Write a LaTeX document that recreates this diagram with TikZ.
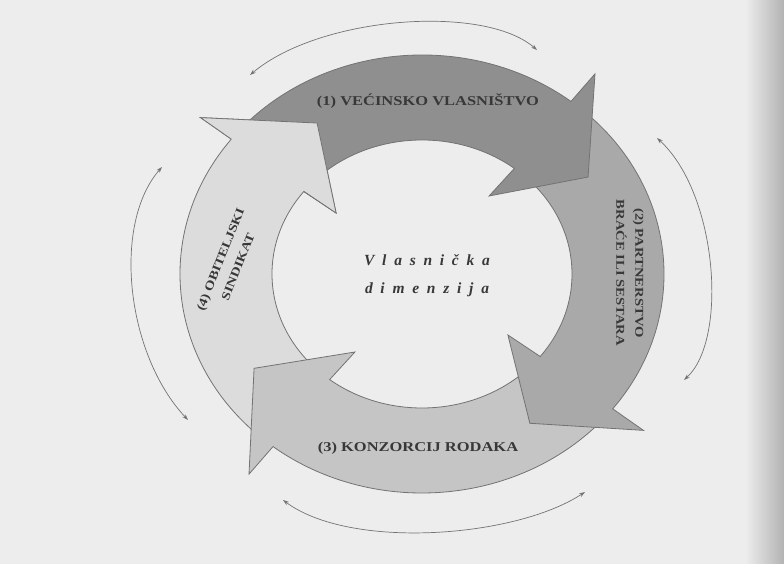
\documentclass[tikz,border=0pt]{standalone}
\usepackage{fontspec}
\setmainfont{Liberation Serif}
\newfontfamily\labelfont[FakeStretch=1.22]{Liberation Serif}
\newfontfamily\titlefont[LetterSpace=50]{Liberation Serif Bold Italic}
\usetikzlibrary{arrows.meta}

\definecolor{paper}{HTML}{EDEDED}
\definecolor{shadeone}{HTML}{8F8F8F}
\definecolor{shadetwo}{HTML}{A9A9A9}
\definecolor{shadethree}{HTML}{C5C5C5}
\definecolor{shadefour}{HTML}{DCDCDC}
\definecolor{rim}{HTML}{737373}
\definecolor{ink}{HTML}{383838}

% one block arc of the ring: style, tail angle, barb angle, tip angle
\newcommand{\ringarrow}[4]{%
  \filldraw[#1] (#2:242pt and 219pt)
    arc[start angle=#2, end angle=#3, x radius=242pt, y radius=219pt]
    -- (#3:281pt and 254pt) -- (#4:198pt and 178pt) -- (#3:109pt and 99pt)
    -- (#3:150pt and 134pt)
    arc[start angle=#3, end angle=#2, x radius=150pt, y radius=134pt] -- cycle;}

\begin{document}
\begin{tikzpicture}[x=1pt, y=1pt,
                    every node/.style={inner sep=0pt},
                    segone/.style={fill=shadeone, draw=rim, line width=0.8pt},
                    segtwo/.style={fill=shadetwo, draw=rim, line width=0.8pt},
                    segthree/.style={fill=shadethree, draw=rim, line width=0.8pt},
                    segfour/.style={fill=shadefour, draw=rim, line width=0.8pt},
                    armlabel/.style={text=ink, align=center,
                      font=\labelfont\bfseries\fontsize{13.5}{16}\selectfont},
                    sidelabel/.style={text=ink, align=center,
                      font=\labelfont\bfseries\fontsize{12}{19}\selectfont},
                    dimlabel/.style={text=ink, align=center,
                      font=\titlefont\fontsize{15.5}{28}\selectfont},
                    swing/.style={draw=rim, line width=0.7pt,
                      {Stealth[length=6pt,width=4pt]}-{Stealth[length=6pt,width=4pt]}}]
  \fill[paper] (0,0) rectangle (784,564);
  \shade[left color=paper, right color=gray!60] (745,0) rectangle (784,564);

  \begin{scope}[shift={(422,290)}]
    \ringarrow{segfour}{230}{142}{122}
    \ringarrow{segthree}{-40}{-128}{-148}
    \ringarrow{segtwo}{50}{-38}{-57}
    \ringarrow{segone}{140}{52}{33}
    % head of the fourth arrow again, over the tail of the first
    \fill[shadefour] (142:281pt and 254pt) -- (122:198pt and 178pt) -- (142:109pt and 99pt) -- cycle;
    \draw[rim, line width=0.8pt] (142:242pt and 219pt) -- (142:281pt and 254pt)
      -- (122:198pt and 178pt) -- (142:109pt and 99pt) -- (142:150pt and 134pt);
  \end{scope}

  \node[armlabel] (majority) at (428,463) {(1) VEĆINSKO VLASNIŠTVO};
  \node[sidelabel, rotate=-90] (siblings) at (630,291) {(2) PARTNERSTVO\\BRAĆE ILI SESTARA};
  \node[armlabel] (cousins) at (418,116) {(3) KONZORCIJ RODAKA};
  \node[sidelabel, rotate=68] (syndicate) at (229,301) {(4) OBITELJSKI\\SINDIKAT};
  \node[dimlabel] (dimension) at (427,288) {Vlasnička\\dimenzija};

  \coordinate (topL) at (250,489);
  \coordinate (topR) at (537,514);
  \coordinate (rightT) at (657,426);
  \coordinate (rightB) at (684,184);
  \coordinate (botL) at (283,64);
  \coordinate (botR) at (585,72);
  \coordinate (leftB) at (188,144);
  \coordinate (leftT) at (162,397);
  \draw[swing] (topL) .. controls (320,548) and (484,560) .. (topR);
  \draw[swing] (rightT) .. controls (718,370) and (728,224) .. (rightB);
  \draw[swing] (botL) .. controls (350,14) and (515,26) .. (botR);
  \draw[swing] (leftB) .. controls (126,210) and (112,340) .. (leftT);
\end{tikzpicture}
\end{document}
